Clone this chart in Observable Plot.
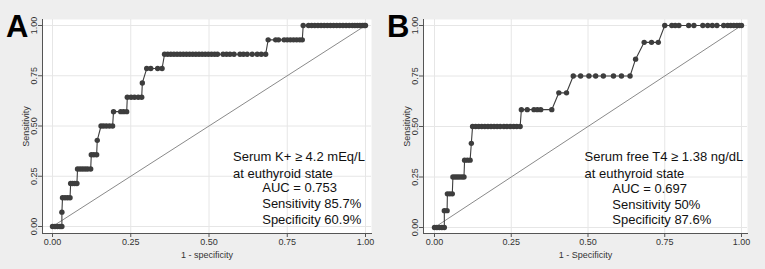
<!DOCTYPE html>
<html><head><meta charset="utf-8">
<script src="https://cdn.jsdelivr.net/npm/d3@7"></script>
<script src="https://cdn.jsdelivr.net/npm/@observablehq/plot@0.6"></script>
<style>
html,body{margin:0;padding:0;background:#eeeeee;}
#wrap{position:relative;width:765px;height:269px;display:flex;font-family:"Liberation Sans",Arial,sans-serif;overflow:hidden;}
.panel{position:relative;}
.panel svg{display:block;}
.letter{position:absolute;top:9px;font-weight:bold;font-size:31px;color:#000;font-family:"Liberation Sans",Arial,sans-serif;}
</style></head>
<body><div id="wrap"></div>
<script>
// ---- data ----
const panelLetters = ["A", "B"];
const xLabels = ["1 - specificity", "1 - Specificity"];
const yLabel = "Sensitivity";
const tickValues = [0, 0.25, 0.5, 0.75, 1];
const tickLabels = ["0.00", "0.25", "0.50", "0.75", "1.00"];
const refLine = [0, 1];

const fprA = [
  0.000, 0.008, 0.016, 0.024, 0.030,
  0.030,
  0.032, 0.040, 0.048, 0.056,
  0.058, 0.064, 0.071, 0.078,
  0.080, 0.088, 0.096, 0.104, 0.112, 0.122,
  0.124, 0.132, 0.141,
  0.143,
  0.155, 0.163, 0.172, 0.182, 0.192,
  0.195, 0.218, 0.227, 0.237,
  0.239, 0.251, 0.262, 0.274, 0.285,
  0.287,
  0.301, 0.314, 0.336, 0.350,
  0.358, 0.368, 0.378, 0.388, 0.398, 0.408, 0.418, 0.428, 0.438, 0.448, 0.458, 0.468, 0.478, 0.488, 0.498, 0.508, 0.518, 0.527, 0.545, 0.556, 0.567, 0.580, 0.599, 0.610, 0.622, 0.638, 0.654, 0.667, 0.681,
  0.689, 0.713, 0.722, 0.740, 0.750, 0.760, 0.770, 0.780, 0.790, 0.798,
  0.801, 0.818, 0.828, 0.838, 0.848, 0.858, 0.868, 0.878, 0.888, 0.898, 0.908, 0.918, 0.928, 0.938, 0.948, 0.958, 0.966, 0.974, 0.982, 0.990, 0.996, 1.000
];
const tprA = [
  0, 0, 0, 0, 0,
  0.0714,
  0.1429, 0.1429, 0.1429, 0.1429,
  0.2143, 0.2143, 0.2143, 0.2143,
  0.2857, 0.2857, 0.2857, 0.2857, 0.2857, 0.2857,
  0.3571, 0.3571, 0.3571,
  0.4286,
  0.5, 0.5, 0.5, 0.5, 0.5,
  0.5714, 0.5714, 0.5714, 0.5714,
  0.6429, 0.6429, 0.6429, 0.6429, 0.6429,
  0.7143,
  0.7857, 0.7857, 0.7857, 0.7857,
  0.8571, 0.8571, 0.8571, 0.8571, 0.8571, 0.8571, 0.8571, 0.8571, 0.8571, 0.8571, 0.8571, 0.8571, 0.8571, 0.8571, 0.8571, 0.8571, 0.8571, 0.8571, 0.8571, 0.8571, 0.8571, 0.8571, 0.8571, 0.8571, 0.8571, 0.8571, 0.8571, 0.8571, 0.8571,
  0.9286, 0.9286, 0.9286, 0.9286, 0.9286, 0.9286, 0.9286, 0.9286, 0.9286, 0.9286,
  1, 1, 1, 1, 1, 1, 1, 1, 1, 1, 1, 1, 1, 1, 1, 1, 1, 1, 1, 1, 1, 1
];

const fprB = [
  0.000, 0.008, 0.016, 0.024, 0.032,
  0.032, 0.041,
  0.042, 0.050, 0.058,
  0.060, 0.067, 0.074, 0.081, 0.089, 0.096,
  0.098, 0.107, 0.116,
  0.120,
  0.124, 0.134, 0.144, 0.154, 0.164, 0.174, 0.184, 0.194, 0.204, 0.214, 0.226, 0.236, 0.247, 0.258, 0.268, 0.279,
  0.283, 0.302, 0.324, 0.335, 0.346, 0.382,
  0.405, 0.430,
  0.452, 0.476, 0.503, 0.525, 0.550, 0.583, 0.609, 0.637,
  0.655,
  0.683, 0.707, 0.729,
  0.750, 0.773, 0.784, 0.796, 0.828, 0.845, 0.874, 0.890, 0.905, 0.920, 0.942, 0.955, 0.965, 0.975, 0.985, 0.993, 1.000
];
const tprB = [
  0, 0, 0, 0, 0,
  0.0833, 0.0833,
  0.1667, 0.1667, 0.1667,
  0.25, 0.25, 0.25, 0.25, 0.25, 0.25,
  0.3333, 0.3333, 0.3333,
  0.4167,
  0.5, 0.5, 0.5, 0.5, 0.5, 0.5, 0.5, 0.5, 0.5, 0.5, 0.5, 0.5, 0.5, 0.5, 0.5, 0.5,
  0.5833, 0.5833, 0.5833, 0.5833, 0.5833, 0.5833,
  0.6667, 0.6667,
  0.75, 0.75, 0.75, 0.75, 0.75, 0.75, 0.75, 0.75,
  0.8333,
  0.9167, 0.9167, 0.9167,
  1, 1, 1, 1, 1, 1, 1, 1, 1, 1, 1, 1, 1, 1, 1, 1, 1
];

const annotHeadA = ["Serum K+ \u2265 4.2 mEq/L", "at euthyroid state"];
const annotStatsA = ["AUC = 0.753", "Sensitivity 85.7%", "Specificity 60.9%"];
const annotHeadB = ["Serum free T4 \u2265 1.38 ng/dL", "at euthyroid state"];
const annotStatsB = ["AUC = 0.697", "Sensitivity 50%", "Specificity 87.6%"];

// ---- drawing ----
const FONT = '"Liberation Sans", Arial, sans-serif';
const fmt = d => tickLabels[tickValues.indexOf(d)];

function panel(cfg) {
  const rows = cfg.fpr.map((x, i) => ({x, y: cfg.tpr[i]}));
  const diag = refLine.map(v => ({x: v, y: v}));
  return Plot.plot({
    width: cfg.width,
    height: 269,
    marginLeft: cfg.ml, marginRight: cfg.mr, marginTop: 19, marginBottom: 36,
    x: {domain: [0, 1], insetLeft: cfg.il, insetRight: cfg.ir},
    y: {domain: [0, 1], insetTop: 6, insetBottom: cfg.ib},
    style: {background: "transparent", fontFamily: FONT, fontSize: "9px", color: "#333"},
    marks: [
      Plot.frame({fill: "white", stroke: "none"}),
      Plot.gridX(tickValues, {stroke: "#e6e6e6", strokeOpacity: 1}),
      Plot.gridY(tickValues, {stroke: "#e6e6e6", strokeOpacity: 1}),
      Plot.frame({anchor: "left", stroke: "#555", strokeOpacity: 1}),
      Plot.frame({anchor: "bottom", stroke: "#555", strokeOpacity: 1}),
      Plot.axisX({ticks: tickValues, tickFormat: fmt, tickSize: 4, tickPadding: 1, stroke: "#555",
        label: cfg.xLabel, labelAnchor: "center", labelArrow: "none", labelOffset: 24}),
      Plot.axisY({ticks: tickValues, tickFormat: fmt, tickSize: 4, tickPadding: 2, tickRotate: -90, stroke: "#555",
        label: yLabel, labelAnchor: "center", labelArrow: "none", labelOffset: 20}),
      Plot.line(diag, {x: "x", y: "y", stroke: "#8a8a8a", strokeWidth: 1}),
      Plot.line(rows, {x: "x", y: "y", stroke: "#3d3d3d", strokeWidth: 1.1}),
      Plot.dot(rows, {x: "x", y: "y", r: 2.7, fill: "#3d3d3d", stroke: "none"}),
      Plot.text([cfg.head.join("\n")], {x: cfg.hx, y: cfg.hy, text: d => d, textAnchor: "start", lineAnchor: "middle",
        fontSize: 13, lineHeight: 1.27, fill: "#111"}),
      Plot.text([cfg.stats.join("\n")], {x: cfg.sx, y: cfg.sy, text: d => d, textAnchor: "start", lineAnchor: "middle",
        fontSize: 13, lineHeight: 1.22, fill: "#111"})
    ]
  });
}

const wrap = document.getElementById("wrap");
const cfgs = [
  {width: 380, ml: 42, mr: 9, il: 10, ir: 6, ib: 7, fpr: fprA, tpr: tprA, xLabel: xLabels[0],
   head: annotHeadA, stats: annotStatsA, hx: 0.577, hy: 0.311, sx: 0.670, sy: 0.117},
  {width: 385, ml: 43, mr: 18, il: 11, ir: 6, ib: 6, fpr: fprB, tpr: tprB, xLabel: xLabels[1],
   head: annotHeadB, stats: annotStatsB, hx: 0.489, hy: 0.313, sx: 0.579, sy: 0.119}
];
cfgs.forEach((c, i) => {
  const div = document.createElement("div");
  div.className = "panel";
  div.style.width = c.width + "px";
  div.appendChild(panel(c));
  const L = document.createElement("div");
  L.className = "letter";
  L.style.left = (i === 0 ? 6 : 7) + "px";
  L.textContent = panelLetters[i];
  div.appendChild(L);
  wrap.appendChild(div);
});
</script>
</body></html>
